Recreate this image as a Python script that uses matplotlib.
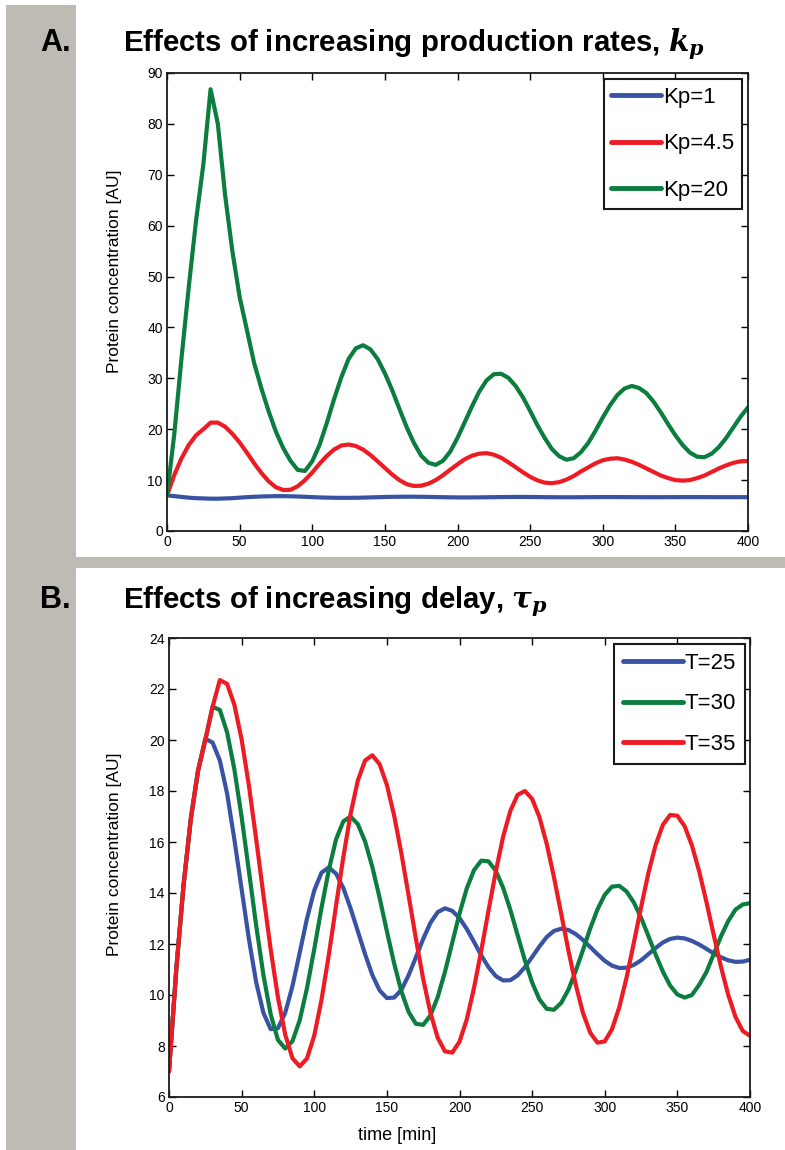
import numpy as np
import matplotlib
matplotlib.use('Agg')
import matplotlib.pyplot as plt
from matplotlib.patches import Rectangle

plt.rcParams['font.family'] = ['Liberation Sans', 'DejaVu Sans']
plt.rcParams['mathtext.fontset'] = 'custom'
plt.rcParams['mathtext.it'] = 'DejaVu Serif:italic:bold'
plt.rcParams['mathtext.rm'] = 'DejaVu Serif:bold'

#%% Datos #####################################################################
t = np.arange(0, 401, 5)   # tiempo [min]

# A. tasas de produccion
kp1 = [7.0, 6.85, 6.7, 6.55, 6.45, 6.4, 6.35, 6.35, 6.4, 6.45, 6.55, 6.65, 6.72, 6.78, 6.82, 6.85,
       6.85, 6.82, 6.78, 6.72, 6.66, 6.6, 6.56, 6.53, 6.52, 6.52, 6.53, 6.56, 6.6, 6.64, 6.68, 6.71,
       6.73, 6.74, 6.74, 6.72, 6.7, 6.67, 6.64, 6.62, 6.6, 6.6, 6.6, 6.61, 6.63, 6.65, 6.67, 6.68,
       6.69, 6.69, 6.68, 6.67, 6.65, 6.64, 6.63, 6.63, 6.63, 6.64, 6.65, 6.66, 6.67, 6.67, 6.67, 6.66,
       6.65, 6.65, 6.64, 6.64, 6.64, 6.65, 6.65, 6.66, 6.66, 6.66, 6.66, 6.65, 6.65, 6.65, 6.65, 6.65,
       6.65]
kp45 = [7, 11, 14.3, 16.9, 18.8, 20.0, 21.3, 21.3, 20.5, 19.1, 17.4, 15.4, 13.3, 11.4, 9.75, 8.6, 8.05,
        8.1, 8.8, 10.0, 11.5, 13.2, 14.75, 16.0, 16.8, 17.0,
        16.7, 16.0, 14.95, 13.7, 12.4, 11.1, 10.0, 9.2, 8.85,
        8.9, 9.3, 10.0, 10.96, 12.05, 13.1, 14.1, 14.8, 15.2, 15.3,
        15.0, 14.4, 13.5, 12.55, 11.55, 10.65, 9.95, 9.5, 9.4,
        9.6, 10.1, 10.8, 11.7, 12.5, 13.3, 13.9, 14.2, 14.3,
        14.05, 13.6, 13.0, 12.3, 11.6, 10.9, 10.4, 10.0, 9.9,
        10.0, 10.4, 10.9, 11.6, 12.3, 12.9, 13.4, 13.7, 13.75]
kp20 = [7, 19, 34, 48, 61, 72, 86.8, 80, 66, 55, 46, 39.5, 33, 28, 23.5, 19.5, 16.3, 13.8, 12.0,
        11.8, 13.7, 16.9, 21.2, 25.9, 30.2, 33.8, 35.9,
        36.5, 35.7, 33.8, 31.0, 27.7, 24.0, 20.4, 17.3, 14.8, 13.4,
        13.0, 13.8, 15.6, 18.3, 21.4, 24.5, 27.4, 29.6, 30.8,
        30.9, 30.1, 28.5, 26.3, 23.6, 20.8, 18.3, 16.1, 14.7, 14.0,
        14.3, 15.5, 17.3, 19.7, 22.3, 24.7, 26.7, 28.0, 28.5,
        28.1, 27.1, 25.4, 23.3, 21.0, 18.8, 16.9, 15.4, 14.6, 14.5,
        15.2, 16.5, 18.3, 20.4, 22.5, 24.3]

# B. retardo
T25 = [7, 11, 14.3, 16.9, 18.8, 20.05, 19.9, 19.2, 17.9, 16.1, 14.15, 12.2, 10.5, 9.3, 8.66,
       8.7, 9.3, 10.35, 11.66, 13.0, 14.1, 14.8, 15.0,
       14.76, 14.2, 13.4, 12.5, 11.6, 10.78, 10.18, 9.88,
       9.9, 10.2, 10.78, 11.48, 12.2, 12.83, 13.25, 13.4,
       13.3, 13.02, 12.59, 12.08, 11.55, 11.09, 10.74, 10.57,
       10.58, 10.77, 11.09, 11.49, 11.9, 12.27, 12.51, 12.6,
       12.55, 12.39, 12.16, 11.88, 11.6, 11.34, 11.15, 11.06,
       11.07, 11.18, 11.36, 11.6, 11.84, 12.06, 12.2, 12.25,
       12.22, 12.12, 11.98, 11.81, 11.63, 11.48, 11.36, 11.3, 11.31, 11.38]
T30 = [7, 11, 14.3, 16.9, 18.8, 20.0, 21.3, 21.18, 20.3, 18.85, 16.98, 14.87, 12.73, 10.78, 9.24, 8.24, 7.9,
       8.19, 9.01, 10.27, 11.8, 13.42, 14.9, 16.1, 16.81, 17.0,
       16.7, 16.02, 15.02, 13.81, 12.5, 11.24, 10.14, 9.33, 8.87,
       8.83, 9.2, 9.92, 10.91, 12.05, 13.19, 14.18, 14.9, 15.27,
       15.24, 14.87, 14.21, 13.34, 12.35, 11.36, 10.49, 9.83, 9.46,
       9.42, 9.69, 10.21, 10.94, 11.76, 12.61, 13.36, 13.93, 14.25,
       14.28, 14.06, 13.63, 13.03, 12.32, 11.59, 10.92, 10.37, 10.02, 9.9,
       10.0, 10.4, 10.9, 11.6, 12.3, 12.9, 13.35, 13.55, 13.6]
T35 = [7, 11, 14.3, 16.9, 18.8, 20.0, 21.3, 22.35, 22.2, 21.38, 20.02, 18.22, 16.12, 13.92, 11.79, 9.91, 8.45, 7.52, 7.2,
       7.51, 8.41, 9.81, 11.56, 13.5, 15.4, 17.1, 18.41, 19.2, 19.4,
       19.05, 18.24, 17.04, 15.55, 13.89, 12.2, 10.63, 9.3, 8.32, 7.79,
       7.74, 8.17, 9.04, 10.28, 11.75, 13.32, 14.85, 16.2, 17.22, 17.85, 18.0,
       17.69, 16.98, 15.94, 14.63, 13.19, 11.74, 10.41, 9.3, 8.52, 8.13,
       8.18, 8.66, 9.52, 10.68, 12.04, 13.44, 14.77, 15.88, 16.67, 17.06,
       17.03, 16.62, 15.87, 14.85, 13.65, 12.36, 11.11, 10.01, 9.14, 8.59, 8.4]

azul, rojo, verde = '#3953a4', '#ed1c24', '#0b7d3e'
gris = '#bebbb4'

#%% Figura ####################################################################
fig = plt.figure(figsize=(7.85, 11.5), dpi=100)

# fondo gris (franja izquierda y separador)
fig.add_artist(Rectangle((6/785, 0), 70/785, 1 - 5/1150, transform=fig.transFigure,
                         color=gris, lw=0, zorder=-10))
fig.add_artist(Rectangle((76/785, 1 - 568/1150), 1, 11/1150, transform=fig.transFigure,
                         color=gris, lw=0, zorder=-10))

axA = fig.add_axes([167/785, 1 - 531/1150, 581/785, 458/1150])
axB = fig.add_axes([169/785, 1 - 1097/1150, 581/785, 459/1150])

estilo = dict(lw=3, solid_joinstyle='round', solid_capstyle='round')
axA.plot(t, kp1,  color=azul,  label='Kp=1', **estilo)
axA.plot(t, kp45, color=rojo,  label='Kp=4.5', **estilo)
axA.plot(t, kp20, color=verde, label='Kp=20', **estilo)
axA.set_ylim(0, 90)
axA.set_yticks(np.arange(0, 91, 10))

axB.plot(t, T25, color=azul,  label='T=25', **estilo)
axB.plot(t, T30, color=verde, label='T=30', **estilo)
axB.plot(t, T35, color=rojo,  label='T=35', **estilo)
axB.set_ylim(6, 24)
axB.set_yticks(np.arange(6, 25, 2))

for ax in (axA, axB):
    ax.set_xlim(0, 400)
    ax.set_xticks(np.arange(0, 401, 50))
    ax.tick_params(direction='in', top=True, right=True, length=5, width=1,
                   labelsize=10, pad=3)
    for s in ax.spines.values():
        s.set_linewidth(1.3)
        s.set_color('#1a1a1a')
    ax.set_ylabel('Protein concentration [AU]', fontsize=12.5)

legA = axA.legend(loc='upper right', bbox_to_anchor=(0.9897, 0.987), fontsize=16,
                  fancybox=False, framealpha=1, edgecolor='#1a1a1a', handlelength=2.25,
                  handletextpad=0.08, borderpad=0.35, labelspacing=1.15, borderaxespad=0)
legB = axB.legend(loc='upper right', bbox_to_anchor=(0.991, 0.987), fontsize=16,
                  fancybox=False, framealpha=1, edgecolor='#1a1a1a', handlelength=2.7,
                  handletextpad=0.08, borderpad=0.4, labelspacing=0.88, borderaxespad=0)
for leg in (legA, legB):
    leg.get_frame().set_linewidth(1.5)
    for h in leg.legend_handles:
        h.set_linewidth(3.5)

axA.yaxis.set_label_coords(-0.078, 0.568)
axB.yaxis.set_label_coords(-0.081, 0.529)
axB.set_xlabel('time [min]', fontsize=13)
axB.xaxis.set_label_coords(0.392, -0.066)

# titulos
ftit = dict(fontsize=21.2, weight='bold', va='baseline')
fig.text(71/785, 1 - 51/1150, 'A.', ha='right', fontsize=22, weight='bold', va='baseline')
fig.text(123/785, 1 - 51/1150, 'Effects of increasing production rates, $k_p$', ha='left', **ftit)
fig.text(71/785, 1 - 608/1150, 'B.', ha='right', fontsize=22, weight='bold', va='baseline')
fig.text(123/785, 1 - 608/1150, r'Effects of increasing delay, $\tau_p$', ha='left', **ftit)

fig.savefig('out.png', dpi=100, facecolor='white')
